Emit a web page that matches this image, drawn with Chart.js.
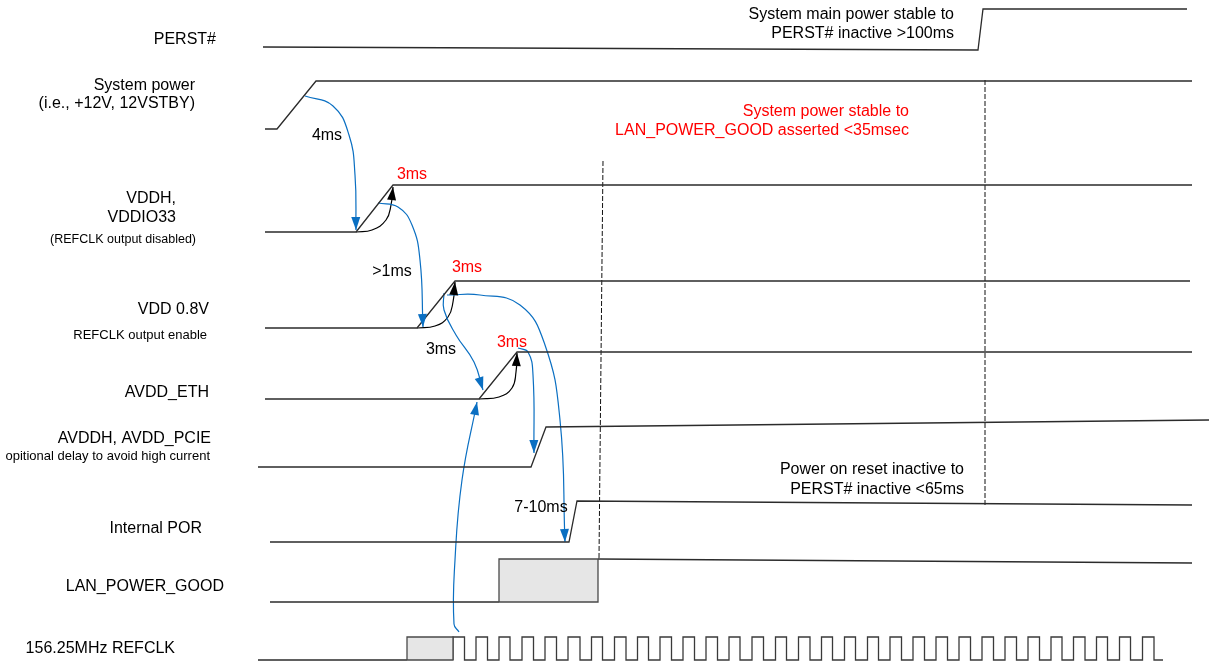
<!DOCTYPE html>
<html>
<head>
<meta charset="utf-8">
<title>Power-up timing</title>
<script src="https://cdn.jsdelivr.net/npm/chart.js@4.4.1/dist/chart.umd.min.js"></script>
<style>
  html, body { margin: 0; padding: 0; background: #fff; }
  #wrap { width: 1209px; height: 662px; }
</style>
</head>
<body>
<div id="wrap"><canvas id="timing" width="1209" height="662"></canvas></div>
<script>
/* ---- waveforms (x = time position, y = lane level) ---- */
const perstX   = [263, 978, 983, 1187];
const perstY   = [47, 50, 9, 9];
const sysPwrX  = [265, 277, 316, 1192];
const sysPwrY  = [129, 129, 81, 81];
const vddhX    = [265, 356, 393, 1192];
const vddhY    = [232, 232, 185, 185];
const vddX     = [265, 417, 455, 1190];
const vddY     = [328, 328, 281, 281];
const avddEthX = [265, 479, 517, 1192];
const avddEthY = [399, 399, 352, 352];
const avddhX   = [258, 531, 546, 1209];
const avddhY   = [467, 467, 427, 420];
const porX     = [270, 569, 577, 1192];
const porY     = [542, 542, 501, 505];

const lanLowX  = [270, 499];
const lanLowY  = [602, 602];
const lanBoxX  = [499, 499, 598, 598, 499];
const lanBoxY  = [602, 559, 559, 602, 602];
const lanHighX = [598, 1192];
const lanHighY = [559, 563];

const clkLowX  = [258, 407];
const clkLowY  = [660, 660];
const clkBoxX  = [407, 407, 453, 453, 407];
const clkBoxY  = [660, 637, 637, 660, 660];
const clkHi = 637, clkLo = 660, clkEnd = 1163;
const clkRise = [453, 476, 499, 522, 545, 568, 591.5, 614.5, 637.5, 660, 683, 706, 729, 752, 775.5, 798.5,
                 821.5, 844.5, 867.5, 890, 913, 936, 959, 982, 1005, 1028, 1051, 1073.5, 1096.5, 1119.5, 1142.5];
const clkFall = [464.5, 487.5, 510, 533.5, 556.5, 580, 602.5, 626, 648.5, 671.5, 694.5, 717.5, 740, 763.5, 786.5, 810,
                 832.5, 855.5, 878.5, 901.5, 924.5, 947.5, 970.5, 993.5, 1016.5, 1039.5, 1062, 1085, 1107.5, 1130.5, 1154];

// vertical markers
const mark1X = [603, 599], mark1Y = [161, 558];
const mark2X = [985, 985], mark2Y = [80, 505];

// blue dependency arrows (last point = arrow tip)
const arr4msX   = [305, 333, 349, 355, 356];
const arr4msY   = [96, 106, 135, 175, 230];
const arr1msX   = [378, 398, 412, 420, 423];
const arr1msY   = [203, 207, 225, 260, 327];
const arr3msX   = [444, 444, 456, 474, 483];
const arr3msY   = [293, 310, 335, 362, 390];
const arrPorX   = [447, 480, 520, 545, 560, 565];
const arrPorY   = [295, 295, 305, 345, 420, 542];
const arrAvddhX = [518, 528, 533, 534];
const arrAvddhY = [348, 352, 375, 453];
const arrClkX   = [459, 454, 455, 462, 477];
const arrClkY   = [632, 624, 560, 480, 402];

// black ramp arrows
const rampVddhX = [356, 372, 386, 391, 393];
const rampVddhY = [232, 230, 220, 205, 187];
const rampVddX  = [417, 435, 448, 453, 455];
const rampVddY  = [328, 326, 317, 302, 282];
const rampEthX  = [479, 499, 512, 516, 517];
const rampEthY  = [399, 397, 388, 372, 353];

/* ---- texts ---- */
const signalNames = ['PERST#', 'System power', '(i.e., +12V, 12VSTBY)', 'VDDH,', 'VDDIO33', '(REFCLK output disabled)',
                     'VDD 0.8V', 'REFCLK output enable', 'AVDD_ETH', 'AVDDH, AVDD_PCIE',
                     'opitional delay to avoid high current', 'Internal POR', 'LAN_POWER_GOOD', '156.25MHz REFCLK'];
const noteTexts   = ['System main power stable to', 'PERST# inactive >100ms',
                     'System power stable to', 'LAN_POWER_GOOD asserted <35msec',
                     'Power on reset inactive to', 'PERST# inactive <65ms'];
const delayTexts  = ['4ms', '>1ms', '3ms', '7-10ms', '3ms', '3ms', '3ms'];

const pts = (xs, ys) => xs.map((x, i) => ({ x, y: ys[i] }));

function clockPoints() {
    const out = [];
    clkRise.forEach((r, i) => {
        out.push({ x: r, y: clkLo }, { x: r, y: clkHi }, { x: clkFall[i], y: clkHi }, { x: clkFall[i], y: clkLo });
    });
    out.push({ x: clkEnd, y: clkLo });
    return out;
}

const WAVE = '#2b2b2b', BLUE = '#0a6fc2';

function wave(xs, ys) {
    return { data: pts(xs, ys), borderColor: WAVE, borderWidth: 1.3, tension: 0 };
}
function box(xs, ys) {
    return { data: pts(xs, ys), borderColor: '#4a4a4a', borderWidth: 1.3, backgroundColor: '#e6e6e6', fill: 'shape', tension: 0 };
}
function marker(xs, ys) {
    return { data: pts(xs, ys), borderColor: '#111', borderWidth: 1, borderDash: [5, 2], tension: 0 };
}
function arrow(xs, ys, color) {
    return { data: pts(xs, ys), borderColor: color, borderWidth: 1.2, tension: 0.45, arrow: true };
}

const datasets = [
    box(lanBoxX, lanBoxY),
    box(clkBoxX, clkBoxY),
    wave(perstX, perstY),
    wave(sysPwrX, sysPwrY),
    wave(vddhX, vddhY),
    wave(vddX, vddY),
    wave(avddEthX, avddEthY),
    wave(avddhX, avddhY),
    wave(porX, porY),
    wave(lanLowX, lanLowY),
    wave(lanHighX, lanHighY),
    wave(clkLowX, clkLowY),
    { data: clockPoints(), borderColor: '#3a3a3a', borderWidth: 1.3, tension: 0 },
    marker(mark1X, mark1Y),
    marker(mark2X, mark2Y),
    arrow(arr4msX, arr4msY, BLUE),
    arrow(arr1msX, arr1msY, BLUE),
    arrow(arr3msX, arr3msY, BLUE),
    arrow(arrPorX, arrPorY, BLUE),
    arrow(arrAvddhX, arrAvddhY, BLUE),
    arrow(arrClkX, arrClkY, BLUE),
    arrow(rampVddhX, rampVddhY, '#000'),
    arrow(rampVddX, rampVddY, '#000'),
    arrow(rampEthX, rampEthY, '#000'),
];

// arrowheads at the end of every arrow dataset
const arrowHeads = {
    id: 'arrowHeads',
    afterDatasetsDraw(chart) {
        const ctx = chart.ctx;
        chart.data.datasets.forEach((ds, i) => {
            if (!ds.arrow) return;
            const el = chart.getDatasetMeta(i).data;
            const tip = el[el.length - 1];
            let dx = tip.x - tip.cp1x, dy = tip.y - tip.cp1y;
            if (!isFinite(dx) || Math.hypot(dx, dy) < 0.5) {
                const prev = el[el.length - 2];
                dx = tip.x - prev.x; dy = tip.y - prev.y;
            }
            const len = Math.hypot(dx, dy), ux = dx / len, uy = dy / len;
            const L = 13, W = 4.5;
            ctx.save();
            ctx.fillStyle = ds.borderColor;
            ctx.beginPath();
            ctx.moveTo(tip.x, tip.y);
            ctx.lineTo(tip.x - L * ux - W * uy, tip.y - L * uy + W * ux);
            ctx.lineTo(tip.x - L * ux + W * uy, tip.y - L * uy - W * ux);
            ctx.closePath();
            ctx.fill();
            ctx.restore();
        });
    }
};

// text placement: [x, y, size] / [x, y, color]
const signalPos = [
    [216, 40, 16], [195, 86, 16], [195, 104, 16], [176, 199, 16], [176, 218, 16], [196, 240, 12.5],
    [209, 310, 16], [207, 335, 13], [209, 393, 16], [211, 439, 16], [210, 456, 13],
    [202, 529, 16], [224, 587, 16], [175, 649, 16]
];
const notePos = [
    [954, 15, '#000'], [954, 34, '#000'],
    [909, 112, '#ff0000'], [909, 131, '#ff0000'],
    [964, 470, '#000'], [964, 490, '#000']
];
const delayPos = [
    [327, 136, '#000'], [392, 272, '#000'], [441, 350, '#000'], [541, 508, '#000'],
    [412, 175, '#ff0000'], [467, 268, '#ff0000'], [512, 343, '#ff0000']
];

const textLayer = {
    id: 'textLayer',
    afterDatasetsDraw(chart) {
        const { ctx, scales: { x, y } } = chart;
        const put = (txt, px, py, size, align, color) => {
            ctx.font = size + 'px "Liberation Sans", Arial, sans-serif';
            ctx.textAlign = align;
            ctx.textBaseline = 'middle';
            ctx.fillStyle = color;
            ctx.fillText(txt, x.getPixelForValue(px), y.getPixelForValue(py));
        };
        ctx.save();
        signalNames.forEach((t, i) => put(t, signalPos[i][0], signalPos[i][1], signalPos[i][2], 'right', '#000'));
        noteTexts.forEach((t, i) => put(t, notePos[i][0], notePos[i][1], 16, 'right', notePos[i][2]));
        delayTexts.forEach((t, i) => put(t, delayPos[i][0], delayPos[i][1], 16, 'center', delayPos[i][2]));
        ctx.restore();
    }
};

new Chart(document.getElementById('timing'), {
    type: 'scatter',
    data: { datasets: datasets.map(d => Object.assign({ showLine: true, pointRadius: 0, pointHoverRadius: 0, fill: false }, d)) },
    options: {
        responsive: false,
        animation: false,
        layout: { padding: 0 },
        events: [],
        plugins: { legend: { display: false }, tooltip: { enabled: false } },
        scales: {
            x: { type: 'linear', min: 0, max: 1209, display: false },
            y: { type: 'linear', min: 0, max: 662, reverse: true, display: false }
        }
    },
    plugins: [arrowHeads, textLayer]
});
</script>
</body>
</html>
